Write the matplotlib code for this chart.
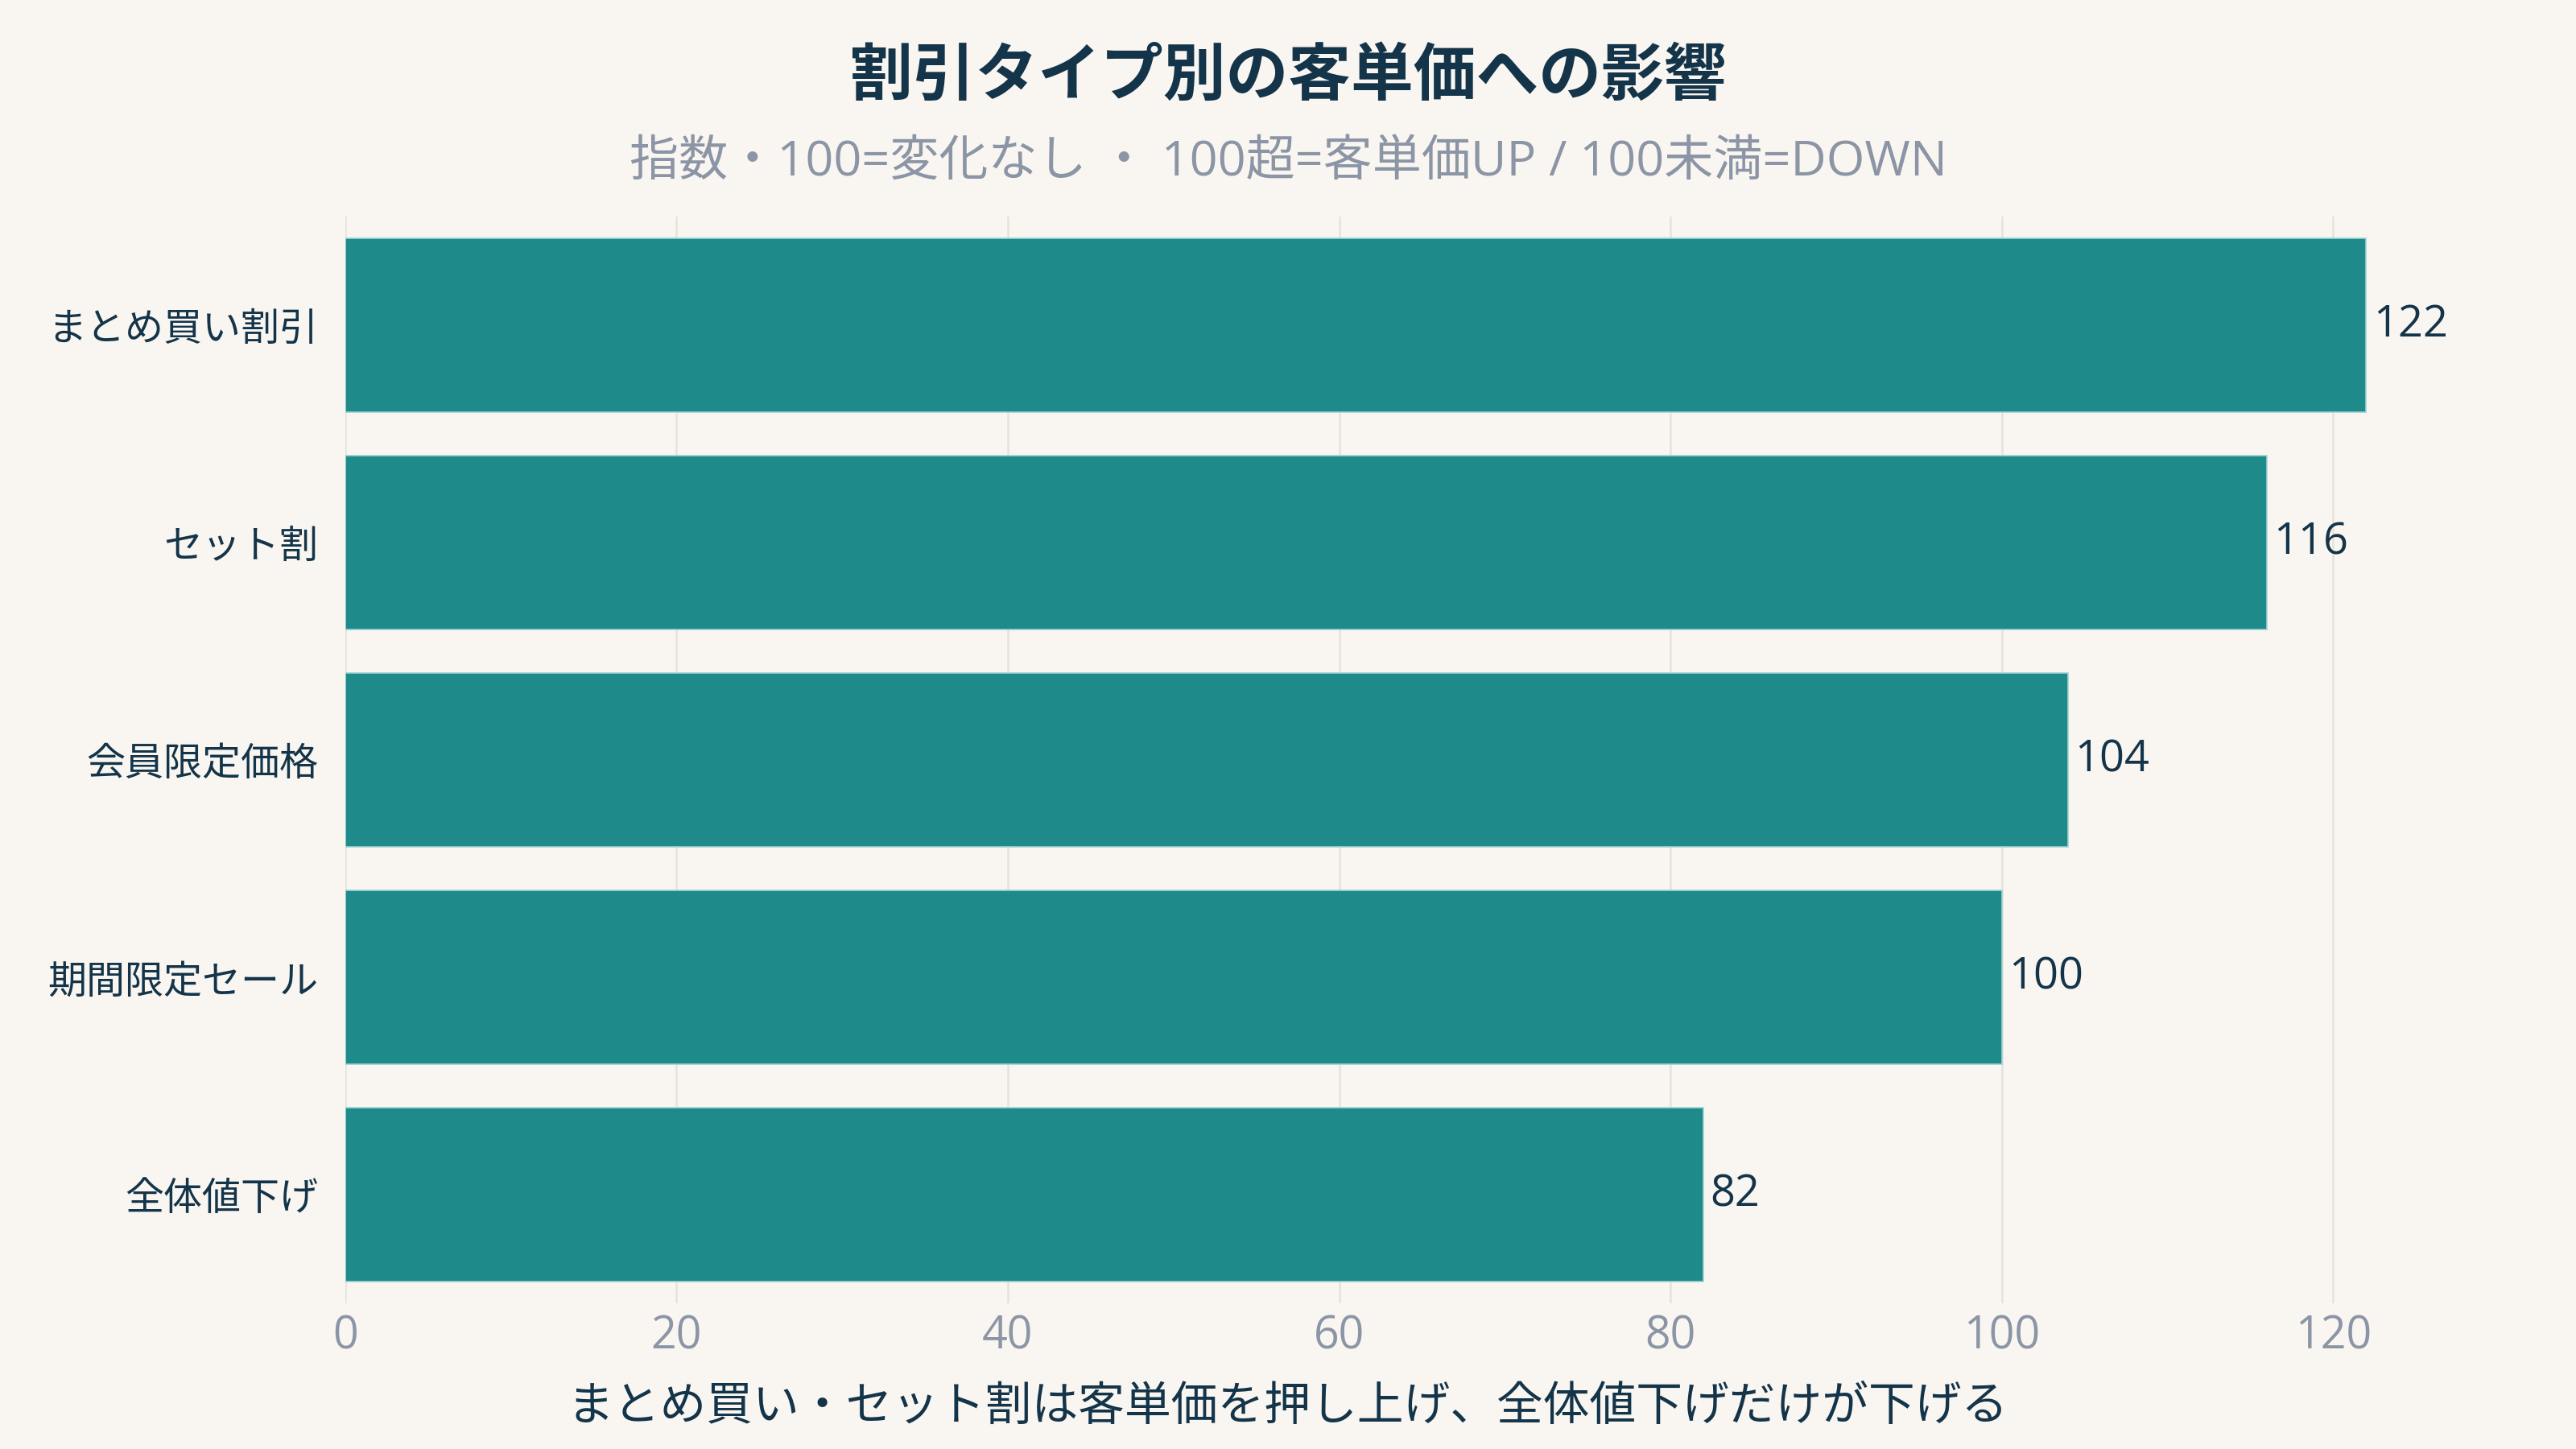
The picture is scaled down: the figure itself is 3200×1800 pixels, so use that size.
import numpy as np
import matplotlib.pyplot as plt

plt.rcParams['font.family'] = ['Noto Sans CJK JP', 'DejaVu Sans']
mixed = ['Open Sans', 'Noto Sans CJK JP']

categories = ['まとめ買い割引', 'セット割', '会員限定価格', '期間限定セール', '全体値下げ']
values = [122, 116, 104, 100, 82]
xticks = [0, 20, 40, 60, 80, 100, 120]

title = '割引タイプ別の客単価への影響'
subtitle = '指数・100=変化なし ・ 100超=客単価UP / 100未満=DOWN'
xlabel = 'まとめ買い・セット割は客単価を押し上げ、全体値下げだけが下げる'

bg = '#f9f6f1'
bar_color = '#1f8a8a'
dark = '#14344a'
gray = '#8b95a5'

fig = plt.figure(figsize=(16, 9), dpi=200, facecolor=bg)
ax = fig.add_axes([0.134, 0.1006, 0.836, 0.75])
ax.set_facecolor(bg)

y = np.arange(len(categories))
ax.barh(y, values, height=0.8, color=bar_color, edgecolor='#9fd3d3', linewidth=0.6, zorder=2)
for yi, v in zip(y, values):
    ax.annotate(str(v), (v, yi), xytext=(3, 0), textcoords='offset points',
                va='center', ha='left', fontsize=19.5, color=dark, family=mixed)

ax.set_ylim(len(categories) - 0.5, -0.5)
ax.set_xlim(0, 130)
ax.set_yticks(y)
ax.set_yticklabels(categories, fontsize=17.3, color=dark)
ax.set_xticks(xticks)
ax.set_xticklabels([str(t) for t in xticks], fontsize=20, color=gray, family=mixed)
ax.tick_params(axis='both', length=0)
ax.tick_params(axis='y', pad=12)
ax.tick_params(axis='x', pad=5)
ax.grid(axis='x', color='#e6e2dc', linewidth=0.9, zorder=0)
for s in ax.spines.values():
    s.set_visible(False)

fig.text(0.5, 0.947, title, ha='center', va='center', fontsize=28, fontweight='bold', color=dark)
fig.text(0.5, 0.888, subtitle, ha='center', va='center', fontsize=22, color=gray, family=mixed)
fig.text(0.5, 0.029, xlabel, ha='center', va='center', fontsize=20.8, color=dark)

fig.savefig('out.png', dpi=200, facecolor=bg)
